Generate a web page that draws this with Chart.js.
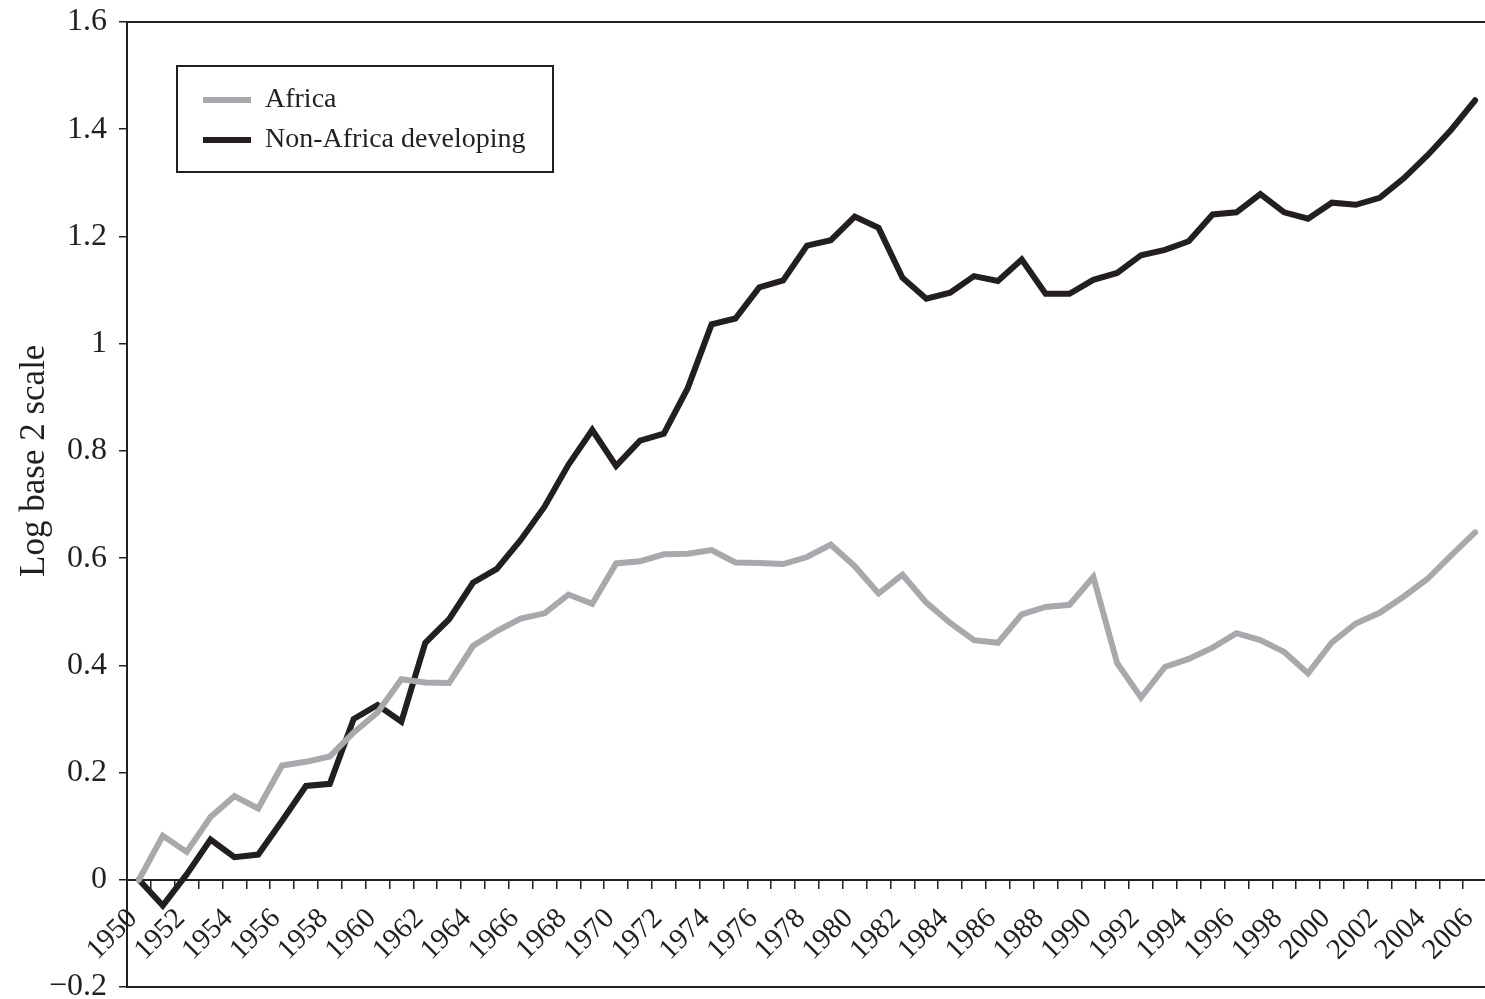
<!DOCTYPE html>
<html>
<head>
<meta charset="utf-8">
<script src="https://cdn.jsdelivr.net/npm/chart.js@4.4.1/dist/chart.umd.min.js"></script>
<style>
  html, body { margin: 0; padding: 0; background: #ffffff; overflow: hidden; }
  #wrap { width: 1490px; height: 999px; }
</style>
</head>
<body>
<div id="wrap"><canvas id="chart" width="1490" height="999"></canvas></div>
<script>
"use strict";

// years on the category axis
const years = [
    "1950", "1951", "1952", "1953", "1954", "1955", "1956", "1957", "1958", "1959",
    "1960", "1961", "1962", "1963", "1964", "1965", "1966", "1967", "1968", "1969",
    "1970", "1971", "1972", "1973", "1974", "1975", "1976", "1977", "1978", "1979",
    "1980", "1981", "1982", "1983", "1984", "1985", "1986", "1987", "1988", "1989",
    "1990", "1991", "1992", "1993", "1994", "1995", "1996", "1997", "1998", "1999",
    "2000", "2001", "2002", "2003", "2004", "2005", "2006"
];

// log base 2 of income relative to 1950
const africa = [
    0, 0.082, 0.052, 0.117, 0.156, 0.133, 0.213, 0.220, 0.230, 0.275,
    0.312, 0.374, 0.368, 0.367, 0.436, 0.464, 0.487, 0.497, 0.532, 0.515,
    0.590, 0.594, 0.607, 0.608, 0.615, 0.592, 0.591, 0.589, 0.602, 0.625,
    0.585, 0.534, 0.569, 0.517, 0.479, 0.447, 0.442, 0.495, 0.509, 0.513,
    0.565, 0.404, 0.340, 0.397, 0.412, 0.433, 0.460, 0.447, 0.425, 0.385,
    0.443, 0.478, 0.498, 0.528, 0.561, 0.605, 0.648
];

const nonAfrica = [
    0, -0.048, 0.010, 0.075, 0.042, 0.047, 0.110, 0.175, 0.179, 0.300,
    0.326, 0.295, 0.442, 0.486, 0.554, 0.580, 0.634, 0.696, 0.774, 0.839,
    0.772, 0.819, 0.832, 0.917, 1.036, 1.047, 1.105, 1.118, 1.183, 1.193,
    1.237, 1.216, 1.123, 1.084, 1.095, 1.126, 1.117, 1.157, 1.093, 1.093,
    1.119, 1.132, 1.165, 1.175, 1.191, 1.241, 1.245, 1.279, 1.245, 1.233,
    1.263, 1.259, 1.272, 1.308, 1.351, 1.399, 1.454
];

const seriesNames = ["Africa", "Non-Africa developing"];

const yMin = -0.2;
const yMax = 1.6;
const yStep = 0.2;

const ink = "#231f20";
const grey = "#a7a9ac";
const serif = "'Liberation Serif', 'DejaVu Serif', serif";

// moves the legend into the plot and draws the box round it
const legendBox = {
    id: "legendBox",
    afterLayout(chart) {
        const lg = chart.legend;
        const area = chart.chartArea;
        lg.left = area.left + 64;
        lg.top = area.top + 52;
        lg.right = lg.left + 360;
        lg.bottom = lg.top + 200;
    },
    afterDraw(chart) {
        const lg = chart.legend;
        const ctx = chart.ctx;
        ctx.save();
        ctx.strokeStyle = ink;
        ctx.lineWidth = 2;
        ctx.strokeRect(lg.left - 14, lg.top - 8, 376, 106);
        ctx.restore();
    }
};

// top and bottom edges of the plot frame
const plotFrame = {
    id: "plotFrame",
    afterDraw(chart) {
        const a = chart.chartArea;
        const ctx = chart.ctx;
        ctx.save();
        ctx.strokeStyle = ink;
        ctx.lineWidth = 2;
        ctx.strokeRect(a.left, a.top, a.right - a.left, a.bottom - a.top);
        ctx.restore();
    }
};

function yLabel(value) {
    const v = Math.round(value * 10) / 10;
    if (v < 0) {
        return "\u2212" + Math.abs(v);
    }
    return String(v);
}

new Chart(document.getElementById("chart"), {
    type: "line",
    data: {
        labels: years,
        datasets: [{
            label: seriesNames[0],
            data: africa,
            borderColor: grey,
            backgroundColor: grey,
            borderWidth: 6,
            borderCapStyle: "round",
            pointRadius: 0,
            tension: 0
        }, {
            label: seriesNames[1],
            data: nonAfrica,
            borderColor: ink,
            backgroundColor: ink,
            borderWidth: 6,
            borderCapStyle: "round",
            pointRadius: 0,
            tension: 0
        }]
    },
    options: {
        responsive: false,
        devicePixelRatio: 1,
        animation: false,
        layout: {
            padding: { left: 0, top: 22, right: 3, bottom: 12 }
        },
        plugins: {
            legend: {
                position: "chartArea",
                align: "start",
                labels: {
                    usePointStyle: true,
                    pointStyle: "line",
                    pointStyleWidth: 48,
                    padding: 12,
                    color: ink,
                    font: { family: serif, size: 28 }
                }
            },
            tooltip: { enabled: false }
        },
        scales: {
            x: {
                type: "category",
                position: { y: 0 },
                offset: true,
                grid: {
                    offset: true,
                    drawOnChartArea: false,
                    drawTicks: true,
                    tickLength: 8,
                    color: ink,
                    lineWidth: 1.5
                },
                border: { display: true, color: ink, width: 2 },
                ticks: {
                    autoSkip: false,
                    minRotation: 45,
                    maxRotation: 45,
                    padding: 14,
                    labelOffset: -6,
                    color: ink,
                    font: { family: serif, size: 29 },
                    callback: (value, index) => (index % 2 === 0 ? years[index] : "")
                },
                afterFit(scale) {
                    scale.height = 0;
                    scale.paddingLeft = 0;
                    scale.paddingRight = 0;
                }
            },
            y: {
                min: yMin,
                max: yMax,
                ticks: {
                    stepSize: yStep,
                    padding: 12,
                    color: ink,
                    font: { family: serif, size: 32 },
                    callback: yLabel
                },
                grid: {
                    drawOnChartArea: false,
                    tickLength: 8,
                    color: ink,
                    lineWidth: 1.5
                },
                border: { display: true, color: ink, width: 2 },
                title: {
                    display: true,
                    // leading spaces lift the centred title to where the original sits
                    text: "          Log base 2 scale",
                    color: ink,
                    font: { family: serif, size: 35 },
                    padding: { top: 14, bottom: 0 }
                },
                afterFit(scale) {
                    scale.width = 127;
                    scale.paddingTop = 0;
                    scale.paddingBottom = 0;
                }
            }
        }
    },
    plugins: [legendBox, plotFrame]
});
</script>
</body>
</html>
